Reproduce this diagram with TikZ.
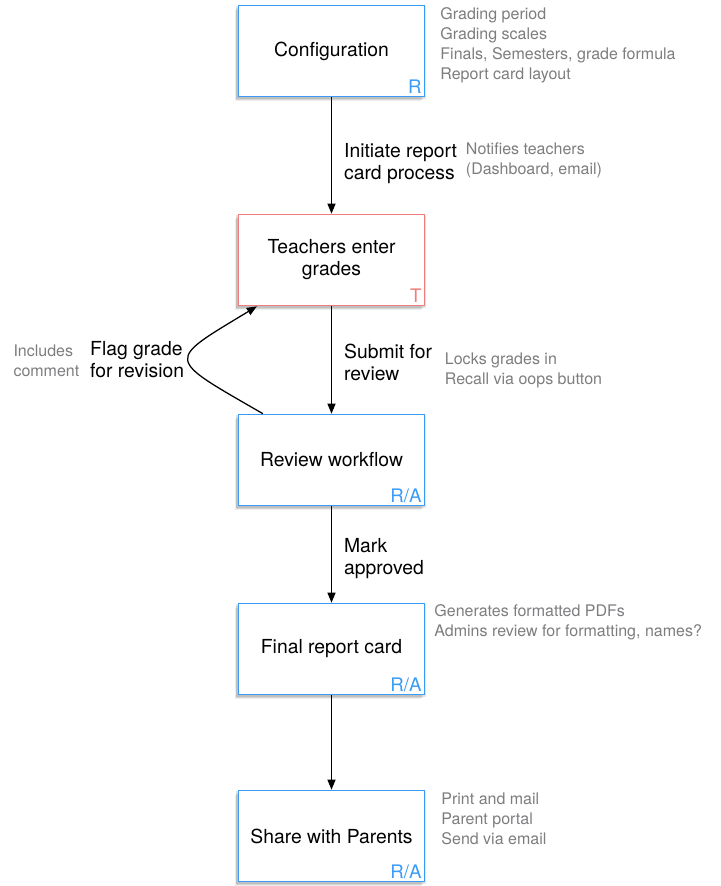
\documentclass[tikz,border=0pt]{standalone}
\usepackage{fontspec}
\setmainfont{TeX Gyre Heros}
\usepackage{tikz}
\usetikzlibrary{arrows.meta}
\usetikzlibrary{positioning}
\usetikzlibrary{shadows}
\usetikzlibrary{calc}
\definecolor{roleblue}{HTML}{3B9CF5}
\definecolor{rolered}{HTML}{F27C7C}
\definecolor{notegray}{HTML}{7D7D80}

\tikzset{
	softshadow/.style={
		drop shadow={shadow xshift=-0.5pt, shadow yshift=-1pt, fill=black, opacity=0.10, shadow scale=1.02},
		drop shadow={shadow xshift=-1.5pt, shadow yshift=-2pt, fill=black, opacity=0.10, shadow scale=1.01},
		drop shadow={shadow xshift=-2.5pt, shadow yshift=-3.5pt, fill=black, opacity=0.07}
	},
	stage/.style={draw=#1, fill=white, line width=1pt, minimum width=139.5pt, minimum height=68.5pt, align=center, font=\fontsize{14.5}{16.5}\selectfont, softshadow},
	role/.style={text=#1, inner sep=2.5pt, anchor=south east, font=\fontsize{14}{16}\selectfont},
	edgelbl/.style={align=left, inner sep=3pt, font=\fontsize{14.5}{16.5}\selectfont},
	note/.style={text=notegray, align=left, inner sep=0pt, font=\fontsize{12}{15}\selectfont},
	flow/.style={line width=0.95pt, -{Triangle[length=7.5pt, width=6pt]}}
}

\begin{document}
\begin{tikzpicture}[x=0.75pt, y=-0.75pt]
		\useasboundingbox (0,0) rectangle (721,886);
		\foreach \n/\y/\t/\r/\c in{
				conf/51/Configuration/R/roleblue,
				teach/260/{Teachers enter\\grades}/T/rolered,
				review/460/Review workflow/{R/A}/roleblue,
				final/649/Final report card/{R/A}/roleblue,
				share/836/Share with Parents/{R/A}/roleblue%
		}{
		\node[stage=\c] (\n) at (331.5,\y) {\t};
		\node[role=\c] (\n-role) at (\n.south east) {\r};
		}

		\draw[flow] (conf) -- node[edgelbl, right=6pt, pos=0.57] (init) {Initiate report\\card process} (teach);
		\draw[flow] (teach) -- node[edgelbl, right=6pt, pos=0.52] (submit) {Submit for\\review} (review);
		\draw[flow] (review) -- node[edgelbl, right=6pt, pos=0.54] (approve) {Mark\\approved} (final);
		\draw[flow] (final) -- (share);
		\draw[flow] ($(review.north west)+(25,0)$) .. controls (165,357) and (165,362) .. node[edgelbl, left, pos=0.5] (flag) {Flag grade\\for revision} ($(teach.south west)+(19,0)$);

		\node[note, anchor=north west] (conf-note) at ($(conf.north east)+(15,3)$) {Grading period\\Grading scales\\Finals, Semesters, grade formula\\Report card layout};
		\node[note, anchor=north west] (init-note) at ($(init.north east)+(4,4)$) {Notifies teachers\\(Dashboard, email)};
		\node[note, anchor=north west] (submit-note) at ($(submit.north east)+(8,13)$) {Locks grades in\\Recall via oops button};
		\node[note, anchor=north east] (flag-note) at ($(flag.north west)+(-6,8)$) {Includes\\comment};
		\node[note, anchor=north west] (final-note) at ($(final.north east)+(9,2)$) {Generates formatted PDFs\\Admins review for formatting, names?};
		\node[note, anchor=north west] (share-note) at ($(share.north east)+(16,3)$) {Print and mail\\Parent portal\\Send via email};
\end{tikzpicture}
\end{document}
